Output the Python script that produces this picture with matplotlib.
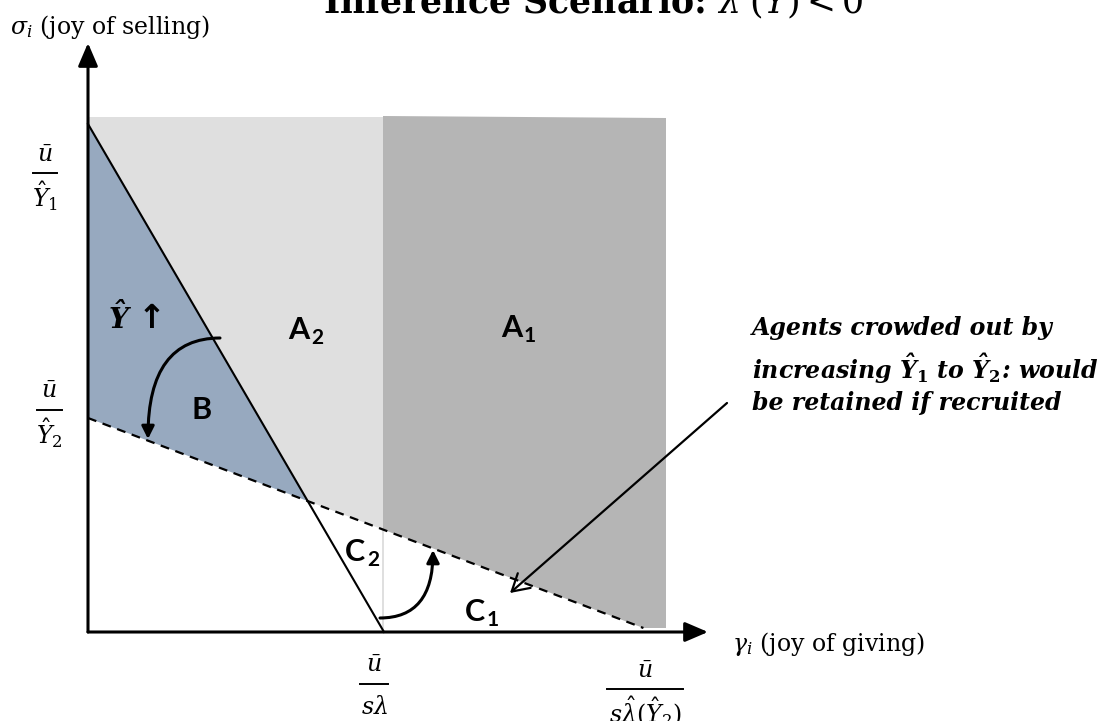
import matplotlib.pyplot as plt

plt.rcParams['mathtext.fontset'] = 'custom'
plt.rcParams['mathtext.rm'] = 'DejaVu Serif'
plt.rcParams['mathtext.it'] = 'DejaVu Serif:italic'
plt.rcParams['mathtext.bf'] = 'DejaVu Serif:bold'
plt.rcParams['mathtext.bfit'] = 'DejaVu Serif:italic:bold'
plt.rcParams['font.family'] = ['DejaVu Serif']

# intercepts of the two boundary lines (diagram units, origin at the axes corner)
sigma_hi = 508      # u/Y1 on the sigma axis
sigma_lo = 214      # u/Y2 on the sigma axis
gamma_lo = 296      # u/(s lambda) on the gamma axis
gamma_hi = 566      # u/(s lambda(Y2)) on the gamma axis

# shaded areas
gamma_split = 295
gamma_right = 578
light_top = 515
dark_top = [516, 514]
shade_bottom = 4

axis_len = [620, 589]   # x axis, y axis

# tick fractions
frac_x = [-43, -39, 286, 557]
frac_y = [459, 222, -52, -57]
frac_half = [12, 12.5, 14, 38]
frac_den = [r"$\hat{Y}_1$", r"$\hat{Y}_2$", r"$s\lambda$", r"$s\hat{\lambda}(\hat{Y}_2)$"]

# region labels: letter, subscript, x, y
regions = [("A", "2", 211, 302), ("A", "1", 424, 304), ("B", "", 114, 222),
           ("C", "2", 267, 80), ("C", "1", 387, 20)]

note_lines = ["Agents crowded out by",
              r"increasing $\mathbfit{\hat{Y}}_\mathbf{1}$ to $\mathbfit{\hat{Y}}_\mathbf{2}$: would",
              "be retained if recruited"]
note_y = [304, 263, 229]


def solid_y(x):
    return sigma_hi * (1 - x / gamma_lo)


def dashed_y(x):
    return sigma_lo * (1 - x / gamma_hi)


x_cross = (sigma_hi - sigma_lo) / (sigma_hi / gamma_lo - sigma_lo / gamma_hi)
y_cross = dashed_y(x_cross)
x_dash_end = gamma_hi * (1 - shade_bottom / sigma_lo)

fig = plt.figure(figsize=(11.14, 7.21), dpi=100)
ax = fig.add_axes([0, 0, 1, 1])
ax.set_xlim(-88, 1026)
ax.set_ylim(-89, 632)
ax.axis('off')

# areas
ax.fill([0, gamma_split, gamma_split, x_cross, 0],
        [light_top, light_top, dashed_y(gamma_split), y_cross, sigma_hi],
        color='#DFDFDF', lw=0)
ax.fill([gamma_split, gamma_right, gamma_right, x_dash_end, gamma_split],
        [dark_top[0], dark_top[1], shade_bottom, shade_bottom, dashed_y(gamma_split)],
        color='#B5B5B5', lw=0)
ax.fill([0, x_cross, 0], [sigma_hi, y_cross, sigma_lo], color='#97A9BF', lw=0)
ax.plot([gamma_split, gamma_split], [0, dashed_y(gamma_split)], color='#D9D9D9', lw=1.2)

# boundaries
ax.plot([0, gamma_lo], [sigma_hi, 0], color='black', lw=1.5)
ax.plot([0, x_dash_end], [sigma_lo, dashed_y(x_dash_end)], color='black', lw=1.6,
        linestyle=(0, (4, 3)))

# axes
for tip in [(axis_len[0], 0), (0, axis_len[1])]:
    ax.annotate('', xy=tip, xytext=(0, 0),
                arrowprops=dict(arrowstyle='-|>,head_length=0.7,head_width=0.3',
                                mutation_scale=20, lw=2.2, color='black',
                                shrinkA=0, shrinkB=0))
ax.text(-78, 605, r"$\sigma_i$ (joy of selling)", fontsize=17, ha='left', va='center')
ax.text(644, -12, r"$\gamma_i$ (joy of giving)", fontsize=17, ha='left', va='center')

# fraction tick labels
for fx, fy, fh, den in zip(frac_x, frac_y, frac_half, frac_den):
    ax.plot([fx - fh, fx + fh], [fy, fy], color='black', lw=1.4)
    ax.text(fx, fy + 18, r"$\bar{u}$", fontsize=17, ha='center', va='center')
    ax.text(fx, fy - 23, den, fontsize=17, ha='center', va='center')

# region labels
for letter, sub, rx, ry in regions:
    ax.text(rx, ry, letter, fontsize=22, fontweight='bold', family='Lato',
            ha='center', va='center')
    if sub:
        ax.annotate(sub, xy=(rx, ry), xytext=(13, -6), textcoords='offset points',
                    fontsize=15, fontweight='bold', family='Lato',
                    ha='center', va='center')

ax.text(32, 314, r"$\mathbfit{\hat{Y}}$", fontsize=20, ha='center', va='center')
ax.text(64, 313, "↑", fontsize=24, fontweight='bold', family='DejaVu Sans',
        ha='center', va='center')

# curved arrows
ax.annotate('', xy=(60, 193), xytext=(132, 294),
            arrowprops=dict(arrowstyle='-|>,head_length=0.5,head_width=0.25',
                            mutation_scale=15, lw=2.2, color='black',
                            connectionstyle='angle3,angleA=180,angleB=90',
                            shrinkA=0, shrinkB=0))
ax.annotate('', xy=(345, 82), xytext=(292, 14),
            arrowprops=dict(arrowstyle='-|>,head_length=0.5,head_width=0.25',
                            mutation_scale=15, lw=2.2, color='black',
                            connectionstyle='angle3,angleA=0,angleB=90',
                            shrinkA=0, shrinkB=0))

# note
ax.annotate('', xy=(422, 39), xytext=(639, 229),
            arrowprops=dict(arrowstyle='->,head_length=0.6,head_width=0.35',
                            mutation_scale=20, lw=1.6, color='black',
                            shrinkA=0, shrinkB=0))
for line, ny in zip(note_lines, note_y):
    ax.text(664, ny, line, fontsize=17, fontweight='bold', fontstyle='italic',
            ha='left', va='center')

ax.text(505, 619, r"Inference Scenario: $\lambda'(\hat{Y}) < 0$", fontsize=25,
        fontweight='bold', ha='center', va='baseline')

fig.savefig('out.png', dpi=100)
